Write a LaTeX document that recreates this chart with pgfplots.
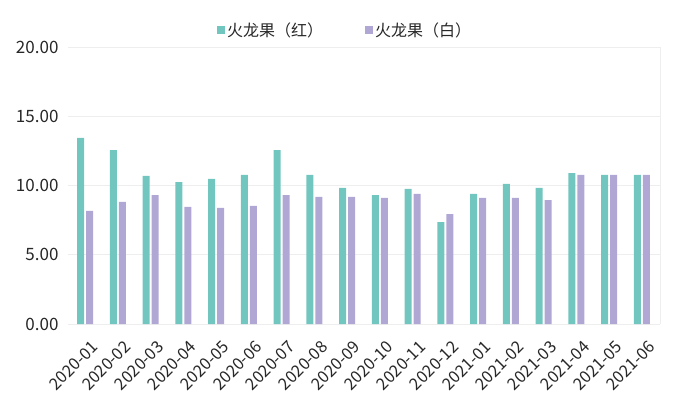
\documentclass[border=0pt]{standalone}
\usepackage{pgfplots}
\pgfplotsset{compat=1.18}
\usepackage{fontspec}
\setmainfont{Noto Sans CJK SC}
\definecolor{cred}{RGB}{114,198,192}
\definecolor{cwhite}{RGB}{177,167,213}
\definecolor{gridc}{RGB}{238,238,238}
\definecolor{txt}{RGB}{40,40,40}
\begin{document}
\begin{tikzpicture}
\useasboundingbox (-68pt,-91pt) rectangle (612pt,324pt);
\begin{axis}[
  anchor=south west, at={(0pt,0pt)},
  scale only axis, width=592pt, height=277pt,
  ymin=0, ymax=20, ytick={0,5,10,15,20},
  xmin=-0.52, xmax=17.55,
  xtick={0,...,17},
  xticklabels={2020-01,2020-02,2020-03,2020-04,2020-05,2020-06,2020-07,2020-08,2020-09,2020-10,2020-11,2020-12,2021-01,2021-02,2021-03,2021-04,2021-05,2021-06},
  x tick label style={rotate=45, anchor=north east, font=\fontsize{16.5}{16.5}\selectfont, text=txt, inner sep=0pt, xshift=-7pt, yshift=-15pt},
  y tick label style={font=\fontsize{17}{17}\selectfont, text=txt, xshift=-6pt, /pgf/number format/.cd, fixed, fixed zerofill, precision=2},
  /pgf/number format/assume math mode=true,
  ymajorgrids, grid style={gridc, line width=0.8pt},
  major tick length=0pt,
  axis line style={draw=none},
  axis x line*=bottom,
  x axis line style={draw=gridc, line width=0.8pt},
  extra description/.code={\draw[gridc, line width=0.8pt] (1,0) -- (1,1);},
  ybar, bar width=7pt,
  legend style={at={(0.468,1.061)}, anchor=center, draw=none, fill=none, legend columns=2, font=\fontsize{16}{16}\selectfont, text=txt, /tikz/every even column/.append style={column sep=40pt}},
  legend image code/.code={\fill[#1] (0pt,-4pt) rectangle (8pt,4pt);},
]
\addplot[fill=cred, draw=none, bar shift=-4.5pt] coordinates {
(0,13.43) (1,12.56) (2,10.69) (3,10.25) (4,10.47) (5,10.76) (6,12.56) (7,10.76) (8,9.82)
(9,9.31) (10,9.75) (11,7.36) (12,9.39) (13,10.11) (14,9.82) (15,10.90) (16,10.76) (17,10.76)};
\addlegendentry{火龙果（红）}
\addplot[fill=cwhite, draw=none, bar shift=4.5pt] coordinates {
(0,8.16) (1,8.81) (2,9.31) (3,8.45) (4,8.38) (5,8.52) (6,9.31) (7,9.17) (8,9.17)
(9,9.10) (10,9.39) (11,7.94) (12,9.10) (13,9.10) (14,8.95) (15,10.76) (16,10.76) (17,10.76)};
\addlegendentry{火龙果（白）}
\end{axis}
\end{tikzpicture}
\end{document}
